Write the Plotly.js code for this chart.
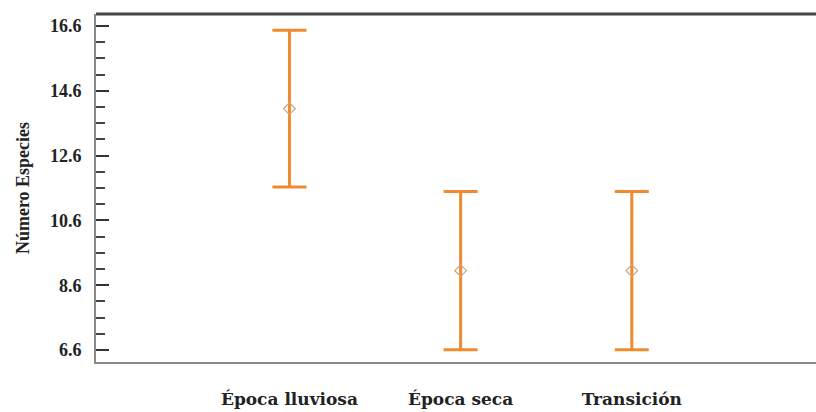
<!DOCTYPE html>
<html><head><meta charset="utf-8">
<script src="https://cdn.plot.ly/plotly-3.0.1.min.js"></script>
<style>html,body{margin:0;padding:0;background:#fff}</style>
</head><body>
<div id="chart" style="width:816px;height:412px"></div>
<script>
const categories = ["Época lluviosa", "Época seca", "Transición"];
const means = [14.05, 9.05, 9.05];
const errors = [2.42, 2.44, 2.44];
const yTickVals = [6.6, 8.6, 10.6, 12.6, 14.6, 16.6];

const serif = "Liberation Serif";

const trace = {
  type: "scatter",
  mode: "markers",
  x: [0, 1, 2],
  y: means,
  marker: {symbol: "diamond-open", size: 9, color: "#c8a57a", line: {width: 1.2}},
  error_y: {type: "data", array: errors, visible: true, color: "#ef8a2f", thickness: 3, width: 17},
  hoverinfo: "skip",
  showlegend: false
};

const layout = {
  width: 816, height: 412,
  margin: {l: 96, r: 0, t: 14, b: 50},
  paper_bgcolor: "#fff", plot_bgcolor: "#fff",
  font: {family: serif, size: 17, color: "#222"},
  xaxis: {
    range: [-1.13, 3.076],
    tickmode: "array", tickvals: [0, 1, 2], ticktext: categories,
    ticks: "", showgrid: false, zeroline: false,
    showline: true, linecolor: "#8a8a8a", linewidth: 2,
    tickfont: {family: "DejaVu Serif", size: 17, weight: 700, color: "#222"},
    ticklabelstandoff: 21
  },
  yaxis: {
    range: [6.23, 16.97],
    tickmode: "array", tickvals: yTickVals, tickformat: ".1f",
    ticks: "inside", ticklen: 13, tickwidth: 2, tickcolor: "#333",
    minor: {dtick: 0.5, tick0: 6.6, ticks: "inside", ticklen: 9, tickwidth: 2, tickcolor: "#444", showgrid: false},
    showgrid: false, zeroline: false,
    showline: true, linecolor: "#8a8a8a", linewidth: 2,
    tickfont: {family: serif, size: 18, weight: 700, color: "#222"},
    ticklabelstandoff: 9,
    title: {text: "Número Especies", font: {family: serif, size: 18, weight: 700, color: "#222"}, standoff: 16}
  },
  shapes: [
    {type: "line", xref: "paper", yref: "paper", x0: 0, x1: 1, y0: 1, y1: 1, line: {color: "#444", width: 3}}
  ]
};

Plotly.newPlot("chart", [trace], layout, {displayModeBar: false, staticPlot: true});
</script>
</body></html>
